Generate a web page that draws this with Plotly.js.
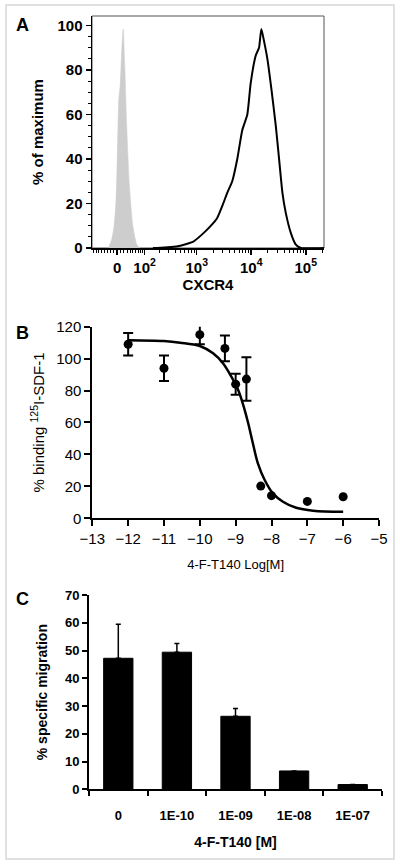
<!DOCTYPE html>
<html>
<head>
<meta charset="utf-8">
<script src="https://cdn.plot.ly/plotly-3.0.1.min.js"></script>
<style>
  html, body { margin: 0; padding: 0; background: #ffffff; }
  #chart { width: 400px; height: 864px; }
</style>
</head>
<body>
<div id="chart"></div>
<script>
// ---------- Panel A: CXCR4 flow cytometry histograms ----------
const isotypeIntensity = [-26, -16, -9, -3, 1, 5, 9, 14, 18, 23, 29, 38, 50, 65, 79];
const isotypePct       = [0, 3.8, 9.8, 21.8, 44, 67, 73, 89.5, 98.5, 82, 55, 27.8, 9.8, 1.5, 0];

const cxcr4Intensity = [150, 180, 499, 882, 1348, 1790, 2375, 2937, 3632, 4490, 5550, 6860, 8480,
                        9770, 12080, 13900, 15340, 17170, 19780, 23450, 28190, 32430, 37350,
                        43000, 53200, 65750, 81400, 216000];
const cxcr4Pct       = [0, 0, 1, 3, 6.8, 9.8, 13.5, 18.8, 24.8, 30, 40, 53, 60,
                        74, 86.5, 90, 98.5, 93, 85, 71.4, 55, 40, 24.8,
                        15.8, 6.8, 1.5, 0, 0];

const aTickValues = [0, 100, 1000, 10000, 100000];
const aTickLabels = ['0', '10<sup>2</sup>', '10<sup>3</sup>', '10<sup>4</sup>', '10<sup>5</sup>'];

// ---------- Panel B: competition binding ----------
const doseLog     = [-12, -11, -10, -9.3, -9, -8.7, -8.3, -8, -7, -6];
const binding     = [109, 94, 115, 106.4, 84, 87.2, 20.2, 14.2, 10.6, 13.5];
const bindingErr  = [7, 8, 6, 8, 6.6, 13.6, 0, 0, 0, 0];

const fitLog      = [-12, -11, -10.55, -10, -9.63, -9.35, -9.12, -8.93, -8.79, -8.65, -8.52,
                     -8.38, -8.19, -7.96, -7.68, -7.31, -6.84, -6];
const fitBinding  = [111.5, 111, 110, 107.9, 103.3, 97, 88.7, 80.3, 71, 59.5, 47,
                     34.4, 24, 15.6, 10.4, 6.6, 4.8, 4.1];

// ---------- Panel C: chemotaxis ----------
const migrationDose = ['0', '1E-10', '1E-09', '1E-08', '1E-07'];
const migration     = [47.2, 49.4, 26.3, 6.6, 1.7];
const migrationErr  = [12.3, 3.1, 2.8, 0, 0];

// logicle-like display transform for panel A
const LW = 69.4;
function T(v) { return Math.asinh(v / LW) / Math.LN10; }

const minorA = [];
for (let m = 10; m <= 90; m += 10) { minorA.push(-m, m); }
[100, 1000, 10000, 100000].forEach(function (d) {
  for (let k = 2; k <= 9; k++) minorA.push(k * d);
});
const minorAvals = minorA.filter(function (v) { return v > -88 && v < 216000; }).map(T);

const FONT = 'Arial, "Liberation Sans", Helvetica, sans-serif';

const withErr = doseLog.map(function (_, i) { return i; }).filter(function (i) { return bindingErr[i] > 0; });
const noErr   = doseLog.map(function (_, i) { return i; }).filter(function (i) { return bindingErr[i] === 0; });

const traces = [
  {
    x: isotypeIntensity.map(T), y: isotypePct, xaxis: 'x', yaxis: 'y',
    type: 'scatter', mode: 'lines', fill: 'tozeroy',
    fillcolor: '#cdcdcd', line: { color: '#cdcdcd', width: 0.5, shape: 'spline', smoothing: 0.6 },
    hoverinfo: 'skip'
  },
  {
    x: cxcr4Intensity.map(T), y: cxcr4Pct, xaxis: 'x', yaxis: 'y',
    type: 'scatter', mode: 'lines',
    line: { color: '#000000', width: 2, shape: 'spline', smoothing: 0.5 },
    hoverinfo: 'skip'
  },
  {
    x: fitLog, y: fitBinding, xaxis: 'x2', yaxis: 'y2',
    type: 'scatter', mode: 'lines',
    line: { color: '#000000', width: 2.5, shape: 'spline', smoothing: 1 },
    hoverinfo: 'skip'
  },
  {
    x: withErr.map(function (i) { return doseLog[i]; }),
    y: withErr.map(function (i) { return binding[i]; }),
    xaxis: 'x2', yaxis: 'y2', type: 'scatter', mode: 'markers',
    marker: { color: '#000000', size: 9 },
    error_y: { type: 'data', array: withErr.map(function (i) { return bindingErr[i]; }),
               color: '#000000', thickness: 2, width: 5 }
  },
  {
    x: noErr.map(function (i) { return doseLog[i]; }),
    y: noErr.map(function (i) { return binding[i]; }),
    xaxis: 'x2', yaxis: 'y2', type: 'scatter', mode: 'markers',
    marker: { color: '#000000', size: 9 }
  },
  {
    x: migrationDose, y: migration, xaxis: 'x3', yaxis: 'y3', type: 'bar',
    marker: { color: '#000000', line: { color: '#000000', width: 1 } },
    error_y: { type: 'data', symmetric: false, array: migrationErr,
               arrayminus: migrationErr.map(function () { return 0; }),
               color: '#000000', thickness: 1.5, width: 2.5 }
  }
];

const layout = {
  width: 400, height: 864,
  margin: { l: 0, r: 0, t: 0, b: 0 },
  paper_bgcolor: '#ffffff', plot_bgcolor: '#ffffff',
  showlegend: false,
  font: { family: FONT, color: '#000000' },
  bargap: 0.5,
  // Panel A
  xaxis: {
    domain: [0.23, 0.81], anchor: 'y',
    range: [T(-88), T(216000)],
    tickmode: 'array', tickvals: aTickValues.map(T), ticktext: aTickLabels,
    ticks: 'outside', ticklen: 5, tickwidth: 1.5, tickcolor: '#000',
    showline: true, linecolor: '#000', linewidth: 1.5,
    showgrid: false, zeroline: false,
    tickfont: { family: FONT, size: 15, weight: 'bold', color: '#000' },
    minor: { tickmode: 'array', tickvals: minorAvals, ticks: 'outside', ticklen: 3, tickwidth: 1, tickcolor: '#000' },
    title: { text: 'CXCR4', font: { family: FONT, size: 15, weight: 'bold', color: '#000' }, standoff: 0 }
  },
  yaxis: {
    domain: [0.71296, 0.98148], anchor: 'x',
    range: [0, 104.3], tickmode: 'linear', tick0: 0, dtick: 20,
    ticks: 'outside', ticklen: 5, tickwidth: 1.5, tickcolor: '#000',
    showline: true, linecolor: '#000', linewidth: 1.5,
    showgrid: false, zeroline: false,
    tickfont: { family: FONT, size: 15, weight: 'bold', color: '#000' },
    minor: { dtick: 5, ticks: 'outside', ticklen: 3, tickwidth: 1, tickcolor: '#000' },
    title: { text: '% of maximum', font: { family: FONT, size: 15, weight: 'bold', color: '#000' }, standoff: 10 }
  },
  // Panel B
  xaxis2: {
    domain: [0.2308, 0.9475], anchor: 'y2',
    range: [-13, -5], tickmode: 'linear', tick0: -13, dtick: 1,
    ticks: 'outside', ticklen: 6, tickwidth: 2, tickcolor: '#000',
    showline: true, linecolor: '#000', linewidth: 2,
    showgrid: false, zeroline: false,
    tickfont: { family: FONT, size: 15, color: '#000' },
    title: { text: '4-F-T140 Log[M]', font: { family: FONT, size: 13, color: '#000' }, standoff: 14 }
  },
  yaxis2: {
    domain: [0.4001, 0.6219], anchor: 'x2',
    range: [0, 120], tickmode: 'linear', tick0: 0, dtick: 20,
    ticks: 'outside', ticklen: 6, tickwidth: 2, tickcolor: '#000',
    showline: true, linecolor: '#000', linewidth: 2,
    showgrid: false, zeroline: false,
    tickfont: { family: FONT, size: 15, color: '#000' },
    title: { text: '% binding <sup>125</sup>I-SDF-1', font: { family: FONT, size: 15, color: '#000' }, standoff: 8 }
  },
  // Panel C
  xaxis3: {
    domain: [0.2225, 0.955], anchor: 'y3',
    type: 'category', tickson: 'boundaries',
    ticks: 'outside', ticklen: 5, tickwidth: 2, tickcolor: '#000',
    ticklabelstandoff: 13,
    showline: true, linecolor: '#000', linewidth: 2,
    showgrid: false, zeroline: false,
    tickfont: { family: FONT, size: 13, weight: 'bold', color: '#000' },
    title: { text: '4-F-T140 [M]', font: { family: FONT, size: 14, weight: 'bold', color: '#000' }, standoff: 15 }
  },
  yaxis3: {
    domain: [0.0865, 0.3113], anchor: 'x3',
    range: [0, 70], tickmode: 'linear', tick0: 0, dtick: 10,
    ticks: 'outside', ticklen: 5, tickwidth: 2, tickcolor: '#000',
    showline: true, linecolor: '#000', linewidth: 2,
    showgrid: false, zeroline: false,
    tickfont: { family: FONT, size: 13, weight: 'bold', color: '#000' },
    title: { text: '% specific migration', font: { family: FONT, size: 14, weight: 'bold', color: '#000' }, standoff: 14 }
  },
  shapes: [
    { type: 'rect', xref: 'paper', yref: 'paper', x0: 0.015, x1: 0.985, y0: 0.0058, y1: 0.9942,
      line: { color: '#d6d6d6', width: 1.5 }, fillcolor: 'rgba(0,0,0,0)', layer: 'below' },
    { type: 'rect', xref: 'x domain', yref: 'y domain', x0: 0, x1: 1, y0: 0, y1: 1,
      line: { color: '#555555', width: 1 }, fillcolor: 'rgba(0,0,0,0)', layer: 'below' }
  ],
  annotations: [
    { text: 'A', xref: 'paper', yref: 'paper', x: 22 / 400, y: 1 - 25 / 864, showarrow: false,
      xanchor: 'center', yanchor: 'middle', font: { family: FONT, size: 18, weight: 'bold', color: '#000' } },
    { text: 'B', xref: 'paper', yref: 'paper', x: 22 / 400, y: 1 - 332.5 / 864, showarrow: false,
      xanchor: 'center', yanchor: 'middle', font: { family: FONT, size: 18, weight: 'bold', color: '#000' } },
    { text: 'C', xref: 'paper', yref: 'paper', x: 22 / 400, y: 1 - 599 / 864, showarrow: false,
      xanchor: 'center', yanchor: 'middle', font: { family: FONT, size: 18, weight: 'bold', color: '#000' } }
  ]
};

Plotly.newPlot('chart', traces, layout, { staticPlot: true, displayModeBar: false });
</script>
</body>
</html>
